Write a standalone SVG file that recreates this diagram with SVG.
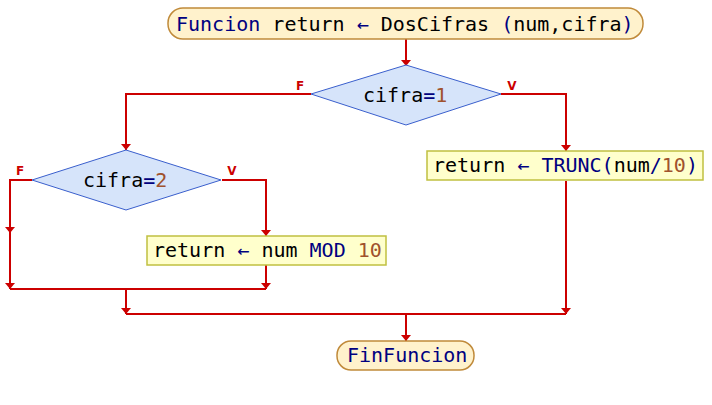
<svg xmlns="http://www.w3.org/2000/svg" width="712" height="405" viewBox="0 0 712 405">
<style>
.term{fill:#fff2cc;stroke:#c08a3a;stroke-width:1.5}
.dec{fill:#d6e4fa;stroke:#3a5fcd;stroke-width:1}
.proc{fill:#ffffcc;stroke:#c0c040;stroke-width:1.5}
.t{font-family:"DejaVu Sans Mono","Liberation Mono",monospace;font-size:20px;fill:#000}
.kw{fill:#000080}
.num{fill:#a0522d}
.lbl{font-family:"DejaVu Sans","Liberation Sans",sans-serif;font-size:12px;font-weight:bold;fill:#cc0000;text-anchor:middle}
.c{fill:none;stroke:#cc0000;stroke-width:2}
</style>
<defs>
<marker id="ah" viewBox="0 -5 6 10" refX="6" refY="0" markerWidth="6" markerHeight="10" markerUnits="userSpaceOnUse" orient="auto">
<path d="M0,-5 L6,0 L0,5 z" fill="#cc0000"/>
</marker>
</defs>
<g id="connectors">
<path class="c" d="M406,39 V66" marker-end="url(#ah)"/>
<path class="c" d="M311,94 H126 V150" marker-end="url(#ah)"/>
<path class="c" d="M501,94 H566 V151" marker-end="url(#ah)"/>
<path class="c" d="M32,180 H10 V233" marker-end="url(#ah)"/>
<path class="c" d="M10,233 V289" marker-end="url(#ah)"/>
<path class="c" d="M222,180 H266 V236" marker-end="url(#ah)"/>
<path class="c" d="M266,265 V289" marker-end="url(#ah)"/>
<path class="c" d="M10,289 H266"/>
<path class="c" d="M126,289 V314" marker-end="url(#ah)"/>
<path class="c" d="M566,181 V314" marker-end="url(#ah)"/>
<path class="c" d="M126,314 H566"/>
<path class="c" d="M406,314 V341" marker-end="url(#ah)"/>
<text class="lbl" x="300" y="90">F</text>
<text class="lbl" x="512" y="90">V</text>
<text class="lbl" x="20" y="175">F</text>
<text class="lbl" x="232" y="175">V</text>
</g>
<g id="start">
<rect class="term" x="168" y="8" width="475" height="31" rx="15"/>
<text class="t" x="176" y="31"><tspan class="kw">Funcion</tspan> return <tspan class="kw">←</tspan> DosCifras <tspan class="kw">(</tspan>num,cifra<tspan class="kw">)</tspan></text>
</g>
<g id="dec1">
<polygon class="dec" points="406,65 501,94 406,125 311,94"/>
<text class="t" x="363" y="102">cifra<tspan class="kw">=</tspan><tspan class="num">1</tspan></text>
</g>
<g id="dec2">
<polygon class="dec" points="126,150 221,180 126,210 32,180"/>
<text class="t" x="83" y="187">cifra<tspan class="kw">=</tspan><tspan class="num">2</tspan></text>
</g>
<g id="procMod">
<rect class="proc" x="147" y="236" width="239" height="29"/>
<text class="t" x="153" y="257">return <tspan class="kw">←</tspan> num <tspan class="kw">MOD</tspan> <tspan class="num">10</tspan></text>
</g>
<g id="procTrunc">
<rect class="proc" x="427" y="151" width="276" height="29"/>
<text class="t" x="433" y="172">return <tspan class="kw">←</tspan> <tspan class="kw">TRUNC(</tspan>num<tspan class="kw">/</tspan><tspan class="num">10</tspan><tspan class="kw">)</tspan></text>
</g>
<g id="end">
<rect class="term" x="337" y="341" width="137" height="29" rx="14"/>
<text class="t kw" x="347" y="362">FinFuncion</text>
</g>
</svg>
